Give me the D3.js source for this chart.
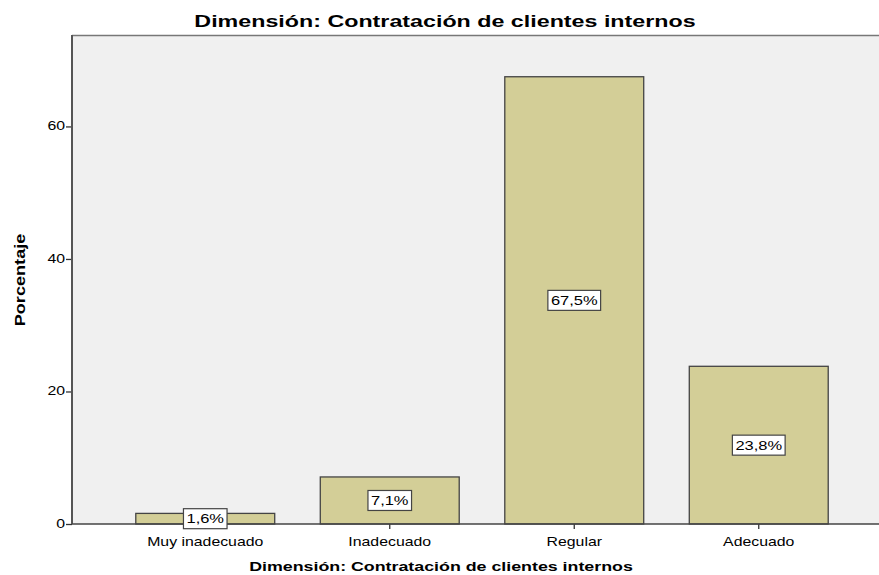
<!DOCTYPE html>
<html>
<head>
<meta charset="utf-8">
<script src="https://cdn.jsdelivr.net/npm/d3@7"></script>
<style>
  body { margin: 0; background: #fff; }
  text { font-family: "Liberation Sans", Arial, sans-serif; fill: #000; }
</style>
</head>
<body>
<script>
// data
var categories = ["Muy inadecuado", "Inadecuado", "Regular", "Adecuado"];
var values = [1.6, 7.1, 67.5, 23.8];
var labels = ["1,6%", "7,1%", "67,5%", "23,8%"];
var yTicks = [0, 20, 40, 60];

var W = 879, H = 575;
// plot area
var pLeft = 72, pTop = 35, pRight = 879, pBottom = 524;
var sx = 1.32; // the picture is stretched sideways

var svg = d3.select("body").append("svg")
    .attr("width", W)
    .attr("height", H);

var x = d3.scaleBand()
    .domain(categories)
    .range([113, 851])
    .paddingInner(0.247)
    .paddingOuter(0.1235);

var y = d3.scaleLinear()
    .domain([0, 73.8])
    .range([pBottom, pTop]);

// stretched text helper
function stext(g, tx, ty, str, size, weight, anchor, rot, stretch) {
  var s = stretch || sx;
  var t = g.append("text")
      .attr("transform", "translate(" + tx + "," + ty + ")" + (rot ? " rotate(" + rot + ")" : "") + " scale(" + s + ",1)")
      .attr("text-anchor", anchor || "middle")
      .style("font-size", size + "px")
      .style("font-weight", weight || "normal")
      .text(str);
  return t;
}

// background of plot
svg.append("rect")
    .attr("x", pLeft).attr("y", pTop)
    .attr("width", pRight - pLeft).attr("height", pBottom - pTop)
    .attr("fill", "#f0f0f0");

svg.append("line")
    .attr("x1", pLeft).attr("x2", pRight)
    .attr("y1", pTop + 0.5).attr("y2", pTop + 0.5)
    .attr("stroke", "#777").attr("stroke-width", 1.5);

// bars
svg.selectAll("rect.bar")
    .data(values)
    .enter().append("rect")
    .attr("class", "bar")
    .attr("x", function(d, i) { return x(categories[i]); })
    .attr("y", function(d) { return y(d); })
    .attr("width", x.bandwidth())
    .attr("height", function(d) { return y(0) - y(d); })
    .attr("fill", "#d3ce97")
    .attr("stroke", "#444")
    .attr("stroke-width", 1.3);

// axes
var yAxis = svg.append("g")
    .attr("transform", "translate(" + pLeft + ",0)")
    .call(d3.axisLeft(y).tickValues(yTicks).tickSize(6).tickFormat(d3.format("d")));
yAxis.select(".domain").remove();
yAxis.selectAll(".tick line").attr("stroke", "#333").attr("stroke-width", 1.3);
yAxis.selectAll(".tick text").remove();
yTicks.forEach(function(v) {
  stext(svg, pLeft - 7, y(v) + 4, String(v), 12, "normal", "end");
});

var xAxis = svg.append("g")
    .attr("transform", "translate(0," + pBottom + ")")
    .call(d3.axisBottom(x).tickSize(5));
xAxis.select(".domain").remove();
xAxis.selectAll(".tick line").attr("stroke", "#333").attr("stroke-width", 1.3);
xAxis.selectAll(".tick text").remove();
categories.forEach(function(c) {
  stext(svg, x(c) + x.bandwidth() / 2, pBottom + 22, c, 12, "normal", "middle");
});

svg.append("line")
    .attr("x1", pLeft).attr("x2", pLeft)
    .attr("y1", pTop).attr("y2", pBottom)
    .attr("stroke", "#555").attr("stroke-width", 2);
svg.append("line")
    .attr("x1", pLeft).attr("x2", pRight)
    .attr("y1", pBottom).attr("y2", pBottom)
    .attr("stroke", "#444").attr("stroke-width", 1.5);

// value labels
values.forEach(function(v, i) {
  var cx = x(categories[i]) + x.bandwidth() / 2;
  var cy = y(v / 2);
  var g = svg.append("g");
  var box = g.append("rect");
  var t = stext(g, cx, cy + 4.5, labels[i], 12.5, "normal", "middle");
  var bb = t.node().getBBox();
  var w = bb.width * sx + 6;
  box.attr("x", cx - w / 2).attr("y", cy - 10)
     .attr("width", w).attr("height", 20)
     .attr("fill", "#fff").attr("stroke", "#444").attr("stroke-width", 1.2);
});

// titles
stext(svg, 445, 27, "Dimensión: Contratación de clientes internos", 16.5, "bold", "middle", 0, 1.41);
stext(svg, 441, 571, "Dimensión: Contratación de clientes internos", 13, "bold", "middle", 0, 1.37);
stext(svg, 25, 280, "Porcentaje", 14.5, "bold", "middle", -90, 1.25);
</script>
</body>
</html>
